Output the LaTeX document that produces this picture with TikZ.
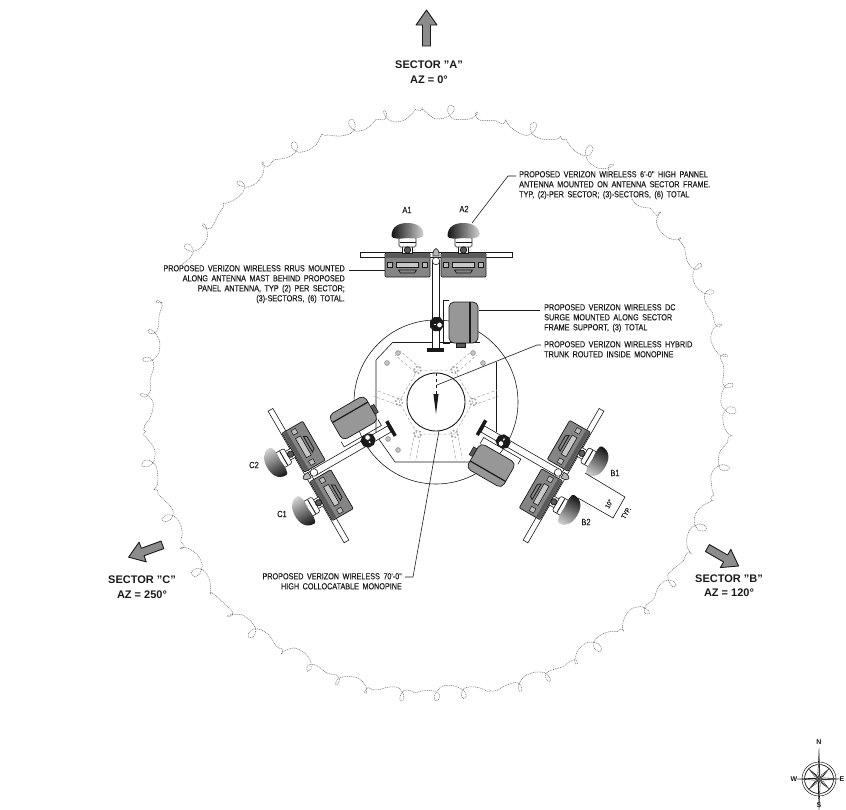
\documentclass[tikz,border=0pt]{standalone}
\usepackage{fontspec}
\setmainfont{Liberation Sans}
\newfontfamily\notefont{Liberation Sans}[FakeStretch=0.83,WordSpace=1.75,FakeBold=0.1]
\usepackage{xcolor}
\usepackage{tikz}
\definecolor{dwgblack}{HTML}{1a1a1a}
\definecolor{dwggray}{HTML}{8c8c8c}
\definecolor{dwgstipple}{HTML}{858585}
\definecolor{dwgdark}{HTML}{5a5a5a}
\definecolor{dwgtree}{HTML}{6a6a6a}
\usetikzlibrary{calc}
\tikzset{
  notetext/.style={font=\notefont\fontsize{8.7}{10}\selectfont, text=dwgblack, inner sep=0pt, fill=white},
  dimtext/.style={font=\notefont\fontsize{7}{8}\selectfont, text=dwgblack, inner sep=0pt},
  sectortext/.style={font=\bfseries\fontsize{11}{14.5}\selectfont, text=dwgblack, align=center, inner sep=0pt},
  anttext/.style={font=\notefont\fontsize{9}{10}\selectfont, text=dwgblack, inner sep=0pt},
  compasstext/.style={font=\bfseries\fontsize{7}{8}\selectfont, text=dwgblack, inner sep=0pt},
  leader/.style={dwgblack, line width=0.6pt},
  hidden/.style={dwggray!80, line width=0.5pt, densely dashed},
  sectorarrow/.style={draw=dwgblack, fill=dwggray, line width=0.9pt, line join=round},
  whitepart/.style={draw=dwgblack, fill=white, line width=0.6pt},
  graypart/.style={draw=dwgblack, fill=dwgstipple, line width=0.7pt},
  declare function={
    canph(\s)=60*mod(\s,6)+60*sin(5*\s)+30*sin(13*\s);
    canpi(\s)=90*mod(\s,4)+40*sin(7*\s);
    canr(\s)=290+4.5*sin(canph(\s))+3.5*sin(canpi(\s))+2*sin(11*\s+30);
    cana(\s)=\s+1.3*cos(canph(\s))+0.5*cos(canpi(\s));
  }
}
\begin{document}
\begin{tikzpicture}[x=1pt,y=-1pt]
\useasboundingbox (0,0) rectangle (846,809);
\pgfmathsetseed{41}

% Tree canopy outline
\draw[dwgtree, line width=0.5pt, dash pattern=on 1pt off 0.8pt]
  plot[smooth cycle, samples=480, domain=0:359.25]
  ({436.5+(canr(\x)+2*rnd)*cos(cana(\x))},{404+(canr(\x)+2*rnd)*sin(cana(\x))});

% Base plate and pipe
\draw[dwgblack, line width=0.6pt] (436,402) circle (82);
\draw[dwgblack, line width=0.6pt] (393,342) -- (376,360) -- (376,435) -- (395,462) -- (476,462);
\draw[dwgblack, line width=0.6pt] (393,342) -- (480,342);
\draw[dwgblack, line width=0.6pt] (496,362) -- (496,432);
\draw[hidden] (473,402) -- ++(-18.5,32) -- ++(-37,0) -- ++(-18.5,-32) -- ++(18.5,-32) -- ++(37,0) -- cycle;
\foreach \boltx/\bolty in {387/363, 398/353, 388/439, 398/450, 473/353, 483/363}
  \draw[dwggray, fill=dwggray!50, line width=0.6pt] (\boltx,\bolty) circle (2.4);
\foreach \sectang in {0,120,240} {
  \begin{scope}[shift={(436,402)}, rotate=-\sectang]
    \draw[hidden] (-16,-34) -- (-36,-51);
    \draw[hidden] (-21,-30) -- (-41,-47);
    \draw[hidden] (16,-34) -- (36,-51);
    \draw[hidden] (21,-30) -- (41,-47);
    \draw[dwggray!80, line width=1.6pt, dotted] (-18.5,-32) circle (3.5);
    \draw[dwggray!80, line width=1.6pt, dotted] (18.5,-32) circle (3.5);
  \end{scope}
}
\draw[dwgblack, fill=white, line width=0.9pt] (436,402) circle (29);
\draw[dwgblack, line width=0.5pt, dashed] (436,373) -- (436,394);
\fill[dwgblack] (436,414) -- (433.4,394) -- (438.6,394) -- cycle;

% One antenna sector, turned round the pipe
\foreach \sectang [evaluate=\sectang as \domeang using 90-\sectang] in {0,120,240} {
  \begin{scope}[shift={(436,402)}, rotate=-\sectang]
    % frame bar
    \draw[whitepart] (-76,-150) rectangle (76,-144.5);
    \foreach \antx in {-28.5,27.5} {
      % rrus
      \draw[graypart, rounded corners=1pt] (\antx-22.5,-149) rectangle (\antx+22.5,-125);
      \fill[dwgdark] (\antx-21.5,-148) rectangle (\antx+21.5,-144);
      \draw[dwgblack, fill=dwgstipple!45, line width=0.6pt] (\antx-11,-140) rectangle (\antx+11,-134.5);
      \draw[dwgblack, line width=0.8pt] (\antx-9,-132) -- (\antx+9,-132) -- (\antx+7,-129) -- (\antx-7,-129) -- cycle;
      \draw[dwgblack, fill=dwgstipple!55, line width=0.5pt] (\antx-20,-140) rectangle (\antx-15,-135);
      \draw[dwgblack, fill=dwgstipple!55, line width=0.5pt] (\antx+15,-140) rectangle (\antx+20,-135);
      % bracket
      \draw[whitepart] (\antx-5,-156) rectangle (\antx+5,-149);
      \draw[whitepart, rounded corners=1.5pt] (\antx-8.5,-165) rectangle (\antx+8.5,-155);
      \draw[dwgblack, line width=0.9pt] (\antx-8,-160) -- (\antx+8,-160);
      \draw[dwgblack, fill=dwgdark, line width=0.8pt] (\antx,-152) circle (3.2);
      % panel
      \shade[left color=black!92, middle color=black!62, right color=black!18, shading angle=\domeang]
        (\antx-16,-166) .. controls (\antx-16,-176) and (\antx-8,-179) .. (\antx,-179)
        .. controls (\antx+8,-179) and (\antx+16,-176) .. (\antx+16,-167)
        .. controls (\antx+16,-164) and (\antx+8,-163) .. (\antx,-164)
        .. controls (\antx-8,-163) and (\antx-16,-163) .. (\antx-16,-166) -- cycle;
    }
    % mast
    \draw[whitepart] (-3.5,-142) rectangle (3.5,-54);
    \draw[dwgblack, fill=dwgstipple!60, line width=0.6pt] (-3.2,-146) .. controls (-3.2,-156) and (3.2,-156) .. (3.2,-146) -- cycle;
    \draw[whitepart] (0,-141) circle (3.8);
    \fill[dwgblack] (-9,-54) rectangle (8,-50.5);
    % surge box
    \draw[dwgblack, line width=0.6pt] (13,-102) -- (7,-102) -- (7,-59) -- (14,-59);
    \draw[dwgblack, fill=dwgdark, line width=0.5pt] (20,-59) rectangle (29,-55);
    \draw[graypart, fill=dwgstipple!85, rounded corners=5pt] (13,-100) rectangle (42,-59);
    \draw[dwgblack, line width=1.2pt] (34,-100) -- (34,-59);
    % clamp
    \fill[dwgblack] (-6,-81) -- (-2,-85) -- (4,-85) -- (7,-81) -- (7,-75) -- (4,-71) -- (-2,-71) -- (-6,-75) -- cycle;
    \draw[whitepart] (3.5,-77) circle (2.8);
    \draw[whitepart] (-3,-78.5) rectangle (0,-76.5);
  \end{scope}
}

% Sector arrows
\foreach \arrx/\arry/\arrang in {426.5/28/0, 723/557/120, 145.5/551/250}
  \draw[sectorarrow, shift={(\arrx,\arry)}, rotate=-\arrang]
    (0,-18) -- (10.5,-3) -- (4,-3) -- (4,18) -- (-4,18) -- (-4,-3) -- (-10.5,-3) -- cycle;
\node[sectortext] (sectA) at (429,72) {SECTOR "A"\\AZ = 0°};
\node[sectortext] (sectB) at (729,585.5) {SECTOR "B"\\AZ = 120°};
\node[sectortext] (sectC) at (142,587) {SECTOR "C"\\AZ = 250°};

% Notes
\node[notetext, anchor=north west, align=left] (noteant) at (519,171) {PROPOSED VERIZON WIRELESS 6'-0" HIGH PANNEL\\ANTENNA MOUNTED ON ANTENNA SECTOR FRAME.\\TYP, (2)-PER SECTOR; (3)-SECTORS, (6) TOTAL};
\node[notetext, anchor=north east, align=right] (noterrus) at (345,265) {PROPOSED VERIZON WIRELESS RRUS MOUNTED\\ALONG ANTENNA MAST BEHIND PROPOSED\\PANEL ANTENNA, TYP (2) PER SECTOR;\\(3)-SECTORS, (6) TOTAL.};
\node[notetext, anchor=north west, align=left] (notesurge) at (544,304) {PROPOSED VERIZON WIRELESS DC\\SURGE MOUNTED ALONG SECTOR\\FRAME SUPPORT, (3) TOTAL};
\node[notetext, anchor=north west, align=left] (notetrunk) at (544,341) {PROPOSED VERIZON WIRELESS HYBRID\\TRUNK ROUTED INSIDE MONOPINE};
\node[notetext, anchor=north east, align=right] (notepine) at (402,573) {PROPOSED VERIZON WIRELESS 70'-0"\\HIGH COLLOCATABLE MONOPINE};

% Leaders
\coordinate (antdome) at (472,223);
\coordinate (antbend) at (508,176);
\coordinate (antend) at (516,176);
\coordinate (rrusbox) at (385,270);
\coordinate (rrusend) at (349,270);
\coordinate (surgebox) at (479,310);
\coordinate (surgeend) at (540,310);
\coordinate (trunkpipe) at (437,385);
\coordinate (trunkbend) at (537,345);
\coordinate (trunkend) at (541,345);
\coordinate (pinepipe) at (439,431);
\coordinate (pinebend) at (413,577);
\coordinate (pineend) at (405,577);
\draw[leader] (antdome) -- (antbend) -- (antend);
\draw[leader] (rrusbox) -- (rrusend);
\draw[leader] (surgebox) -- (surgeend);
\draw[leader] (trunkpipe) -- (trunkbend) -- (trunkend);
\draw[leader] (pinepipe) -- (pinebend) -- (pineend);

% Antenna names
\node[anttext] (antA1) at (407,210) {A1};
\node[anttext] (antA2) at (464,209) {A2};
\node[anttext] (antB1) at (615,473) {B1};
\node[anttext] (antB2) at (586,522) {B2};
\node[anttext] (antC1) at (282,514) {C1};
\node[anttext] (antC2) at (254,465) {C2};

% Spacing dimension
\coordinate (dimstart) at (585,473);
\coordinate (dimone) at (625,497);
\coordinate (dimtwo) at (613,518);
\coordinate (dimback) at (578,498);
\draw[leader] (dimstart) -- (dimone) -- (dimtwo) -- (dimback);
\node[dimtext, rotate=60] (dimval) at (609,504) {10°};
\node[dimtext, rotate=60] (dimtyp) at (626,513) {TYP.};

% North arrow
\begin{scope}[shift={(819,779)}]
  \draw[dwgblack, line width=0.5pt] (0,0) circle (17);
  \draw[dwgblack, line width=0.7pt] (0,0) circle (14.5);
  \foreach \pointang/\pointlen in {45/15, 135/15, 225/15, 315/15, 0/22, 90/31, 180/22, 270/31} {
    \fill[dwgblack] (0,0) -- (\pointang:\pointlen) -- (\pointang+14:5) -- cycle;
    \draw[dwgblack, fill=white, line width=0.3pt] (0,0) -- (\pointang:\pointlen) -- (\pointang-14:5) -- cycle;
  }
\end{scope}
\node[compasstext] (compN) at (819,742) {N};
\node[compasstext] (compS) at (819,805) {S};
\node[compasstext] (compE) at (842,779) {E};
\node[compasstext] (compW) at (794,779) {W};
\end{tikzpicture}
\end{document}
